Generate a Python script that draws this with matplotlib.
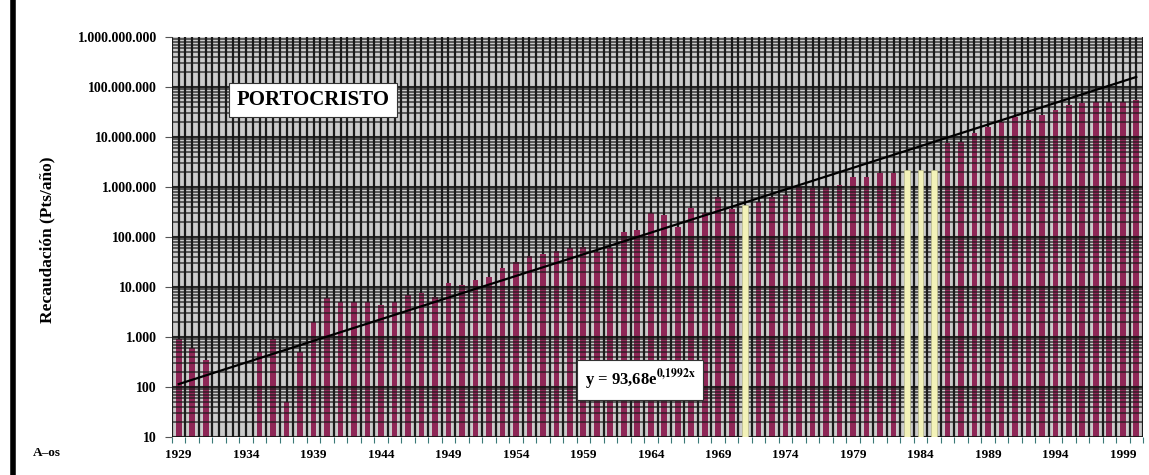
import numpy as np
import matplotlib
matplotlib.use("Agg")
import matplotlib.pyplot as plt
from matplotlib.lines import Line2D
from matplotlib.ticker import FixedLocator, FuncFormatter

# Annual revenue, pesetas per year
years = list(range(1929, 2001))
revenue = [
    900, 600, 350, 0, 0, 0, 500, 900, 50, 500,
    2000, 6000, 5000, 4900, 5000, 4400, 5000, 6900, 7600, 6300,
    12000, 11000, 14000, 16000, 24000, 32000, 42000, 46000, 52000, 60000,
    63000, 50000, 60000, 126000, 140000, 300000, 280000, 160000, 380000, 300000,
    630000, 360000, 440000, 500000, 620000, 700000, 1000000, 950000, 1000000, 1100000,
    1600000, 1600000, 1900000, 1900000, 2200000, 2200000, 2200000, 7600000, 7800000, 12000000,
    16000000, 20000000, 25000000, 22000000, 27000000, 35000000, 44000000, 48000000, 50000000, 50000000,
    50000000, 55000000,
]
estimated_years = [1971, 1983, 1984, 1985]
label_years = list(range(1929, 2000, 5))
y_ticks = [10, 100, 1000, 10000, 100000, 1000000, 10000000, 100000000, 1000000000]

# Exponential fit y = a * exp(b * n), n = 1 .. N
fit_a = 93.68
fit_b = 0.1992

plt.rcParams["font.family"] = ["Liberation Serif", "DejaVu Serif"]
plt.rcParams["font.weight"] = "bold"
plt.rcParams["mathtext.fontset"] = "stix"

fig = plt.figure(figsize=(11.49, 4.75), dpi=100)
fig.patch.set_facecolor("white")
ax = fig.add_axes([172 / 1149, 1 - 437 / 475, 971 / 1149, 400 / 475])
ax.set_facecolor("#cbcbcb")

x = np.arange(len(years))
normal_x = [i for i, yv in enumerate(years) if yv not in estimated_years]
normal_v = [revenue[i] for i in normal_x]
est_x = [i for i, yv in enumerate(years) if yv in estimated_years]
est_v = [revenue[i] for i in est_x]

ax.set_yscale("log")
ax.set_ylim(10, 1e9)
ax.set_xlim(-0.5, len(years) - 0.5)

# Vertical background grid (under the bars)
for gx in np.arange(-0.5, len(years), 0.5):
    ax.axvline(gx, color="#1b1b1b", lw=1.6, zorder=0.5)

ax.bar(normal_x, normal_v, width=0.42, color="#8e2656", zorder=1)

# Horizontal log grid (over the bars)
for dec in range(1, 9):
    base = 10 ** dec
    ax.axhline(base, color="#141414", lw=1.5, zorder=2, alpha=0.9)
    for m in range(2, 10):
        ax.axhline(base * m, color="#1a1a1a", lw=1.2, zorder=2, alpha=0.75)

ax.bar(est_x, est_v, width=0.42, color="#f3f2b8", edgecolor="#b9b98a", lw=0.5, zorder=3)

# Trend line
n = x + 1
ax.plot(x, fit_a * np.exp(fit_b * n), color="black", lw=1.6, zorder=4)

# Axis ticks and labels
ax.yaxis.set_major_locator(FixedLocator(y_ticks))
ax.yaxis.set_minor_locator(FixedLocator([]))
ax.yaxis.set_major_formatter(FuncFormatter(lambda v, p: f"{int(round(v)):,}".replace(",", ".")))
ax.tick_params(axis="y", which="major", length=5, width=0.8, color="#555555",
               labelsize=10, pad=6)

ax.set_xticks([years.index(yv) for yv in label_years])
ax.set_xticklabels([str(yv) for yv in label_years])
ax.set_xticks(np.arange(-0.5, len(years), 1), minor=True)
ax.tick_params(axis="x", which="major", length=0, labelsize=9.5, pad=9)
ax.tick_params(axis="x", which="minor", length=4, width=0.8, color="#3a7a78")

for s in ax.spines.values():
    s.set_visible(False)

fig.text(47 / 1149, 1 - 240 / 475, "Recaudación (Pts/año)", rotation=90,
         ha="center", va="center", fontsize=12.5, fontweight="bold")
fig.text(47 / 1149, 1 - 453 / 475, "A–os", ha="center", va="center",
         fontsize=9.5, fontweight="bold")

ax.text(313 / 1149, 1 - 100 / 475, "PORTOCRISTO", transform=fig.transFigure,
        ha="center", va="center", fontsize=15, fontweight="bold", zorder=6,
        bbox=dict(boxstyle="square,pad=0.35", facecolor="white", edgecolor="#333333", lw=0.8))
ax.text(640 / 1149, 1 - 380 / 475,
        r"y = 93,68e$^{\mathbf{0{,}1992x}}$",
        transform=fig.transFigure, ha="center", va="center", fontsize=12,
        fontweight="bold", zorder=6,
        bbox=dict(boxstyle="square,pad=0.45", facecolor="white", edgecolor="#333333", lw=0.8))

# Left frame rule
fig.add_artist(Line2D([13 / 1149, 13 / 1149], [0, 1], transform=fig.transFigure,
                      color="black", lw=4))

fig.savefig("out.png", dpi=100)
